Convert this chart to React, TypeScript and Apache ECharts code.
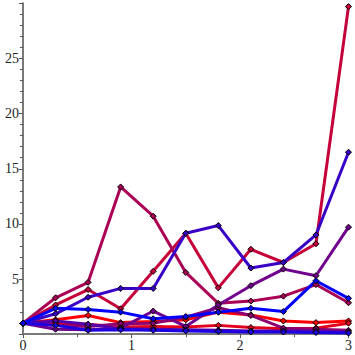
import React, { useEffect, useRef } from "react";
import * as echarts from "echarts";

const xValues = [0, 0.3, 0.6, 0.9, 1.2, 1.5, 1.8, 2.1, 2.4, 2.7, 3.0];

const seriesColors = [
  "#ff0000",
  "#e3001c",
  "#c60039",
  "#aa0055",
  "#8e0071",
  "#71008e",
  "#5500aa",
  "#3900c6",
  "#1c00e3",
  "#0000ff",
];

const path0 = [1, 1.3, 1.7, 1.05, 1.15, 1.3, 2.0, 1.75, 1.2, 1.05, 1.2];
const path1 = [1, 1.0, 0.9, 0.65, 0.7, 0.65, 0.8, 0.6, 0.5, 0.55, 1.0];
const path2 = [1, 2.65, 4.05, 2.3, 5.7, 9.15, 4.2, 7.7, 6.5, 8.2, 29.7];
const path3 = [1, 3.3, 4.7, 13.35, 10.7, 5.6, 2.8, 3.0, 3.45, 4.5, 2.85];
const path4 = [1, 0.8, 0.7, 0.95, 1.0, 1.55, 2.4, 1.7, 0.55, 0.45, 0.35];
const path5 = [1, 0.45, 0.4, 0.55, 2.1, 0.7, 2.65, 4.4, 5.9, 5.3, 9.7];
const path6 = [1, 1.2, 0.9, 0.5, 0.45, 0.4, 0.35, 0.3, 0.3, 0.25, 0.2];
const path7 = [1, 1.85, 3.35, 4.15, 4.15, 9.15, 9.85, 6.0, 6.5, 9.0, 16.5];
const path8 = [1, 0.8, 0.35, 0.4, 0.35, 0.3, 0.25, 0.2, 0.2, 0.15, 0.1];
const path9 = [1, 2.35, 2.25, 2.0, 1.4, 1.6, 2.0, 2.35, 2.05, 4.85, 3.25];

const paths = [path0, path1, path2, path3, path4, path5, path6, path7, path8, path9];

const xTickLabels = ["0", "1", "2", "3"];
const yTickLabels = ["5", "10", "15", "20", "25"];

export default function App() {
  const ref = useRef<HTMLDivElement>(null);
  useEffect(() => {
    if (!ref.current) return;
    const chart = echarts.init(ref.current, undefined, { renderer: "svg" });
    const font = "Liberation Serif";
    chart.setOption({
      animation: false,
      grid: { left: 23, right: 4, top: 3.3, bottom: 20.8, containLabel: false },
      xAxis: {
        type: "value",
        min: 0,
        max: 3,
        interval: 1,
        offset: 2,
        axisLine: { show: true, lineStyle: { color: "#7a7a7a", width: 2 } },
        axisTick: { show: true, length: 4, lineStyle: { color: "#555", width: 1 } },
        minorTick: { show: true, splitNumber: 2, length: 3, lineStyle: { color: "#555", width: 1 } },
        splitLine: { show: false },
        axisLabel: {
          color: "#222",
          fontFamily: font,
          fontSize: 14,
          margin: 2,
          formatter: (v: number) => {
            const idx = Math.round(v);
            return Math.abs(v - idx) < 1e-6 && xTickLabels[idx] !== undefined ? xTickLabels[idx] : "";
          },
        },
      },
      yAxis: {
        type: "value",
        min: 0,
        max: 30,
        interval: 5,
        axisLine: { show: true, onZero: false, lineStyle: { color: "#7a7a7a", width: 2 } },
        axisTick: { show: true, length: 4, lineStyle: { color: "#555", width: 1 } },
        minorTick: { show: true, splitNumber: 5, length: 3, lineStyle: { color: "#555", width: 1 } },
        splitLine: { show: false },
        axisLabel: {
          color: "#222",
          fontFamily: font,
          fontSize: 14,
          margin: 4,
          formatter: (v: number) => {
            const s = String(Math.round(v));
            return yTickLabels.includes(s) ? s : "";
          },
        },
      },
      series: paths.map((p, i) => ({
        type: "line",
        data: p.map((y, j) => [xValues[j], y]),
        clip: false,
        symbol: "diamond",
        symbolSize: 6,
        showSymbol: true,
        lineStyle: { color: seriesColors[i], width: 3 },
        itemStyle: { color: seriesColors[i], borderColor: "#000", borderWidth: 1 },
        z: 2,
      })),
    });
    return () => chart.dispose();
  }, []);
  return (
    <div
      ref={ref}
      style={{ position: "fixed", left: 0, top: 0, width: 355, height: 355, background: "#fff" }}
    />
  );
}
